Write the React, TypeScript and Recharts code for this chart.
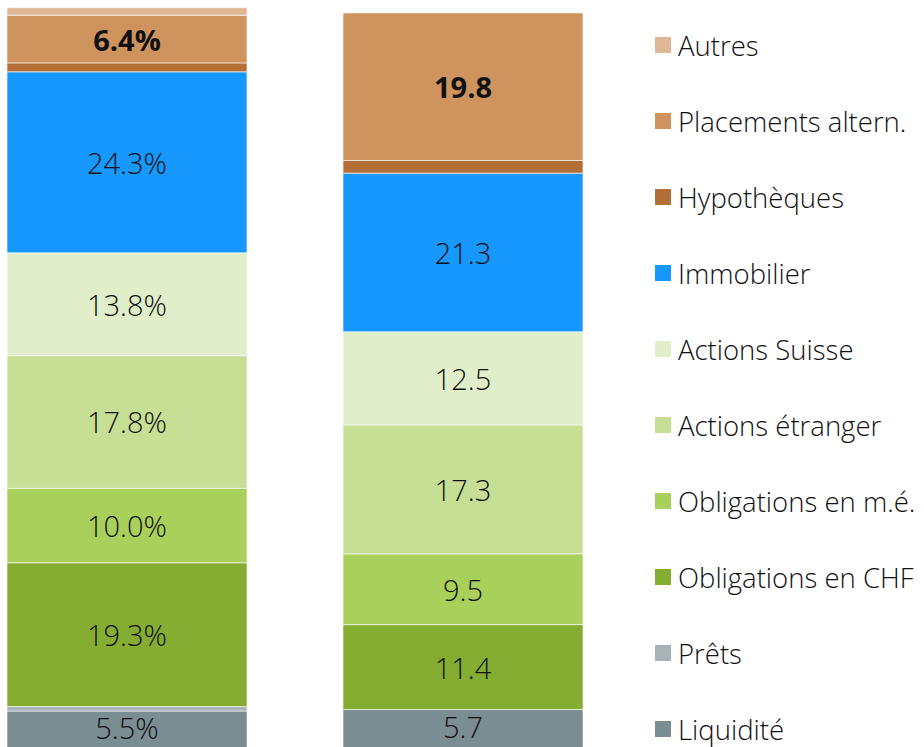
import { BarChart, Bar, XAxis, YAxis, LabelList } from 'recharts';

// two stacked columns (left in %, right in the same scale)
const columns = ['Répartition', 'Stratégie'];

const seriesNames = [
  'Liquidité',
  'Prêts',
  'Obligations en CHF',
  'Obligations en m.é.',
  'Actions étranger',
  'Actions Suisse',
  'Immobilier',
  'Hypothèques',
  'Placements altern.',
  'Autres',
];

const leftValues = [5.5, 0.6, 19.3, 10.0, 17.8, 13.8, 24.3, 1.2, 6.4, 1.0];
const rightValues = [5.7, 0, 11.4, 9.5, 17.3, 12.5, 21.3, 1.7, 19.8, 0];

const colors = [
  '#7A8D93',
  '#A6B3B9',
  '#84AD31',
  '#A8D05B',
  '#C6DF94',
  '#E0EFC9',
  '#1698FF',
  '#B36F36',
  '#CF935D',
  '#E0B794',
];

const data = columns.map((name, i) => {
  const row: Record<string, string | number> = { name };
  seriesNames.forEach((s, k) => {
    row[s] = i === 0 ? leftValues[k] : rightValues[k];
  });
  return row;
});

const FONT = '"Open Sans", sans-serif';

const makeLabel = (bold: boolean, nudge: number) => (props: any) => {
  const { x, y, width, height, value, index } = props;
  if (value == null || value < 3) return null;
  const txt = index === 0 ? `${Number(value).toFixed(1)}%` : Number(value).toFixed(1);
  return (
    <text
      x={x + width / 2}
      y={y + height / 2 + nudge}
      textAnchor="middle"
      dominantBaseline="central"
      fontSize={29}
      fontWeight={bold ? 700 : 300}
      fontFamily={FONT}
      fill="#111"
    >
      {txt}
    </text>
  );
};

export default function App() {
  const legendItems = seriesNames.map((n, i) => ({ n, c: colors[i] })).reverse();
  return (
    <div
      style={{
        position: 'fixed',
        left: 0,
        top: 0,
        width: 924,
        height: 747,
        overflow: 'hidden',
        background: '#fff',
        fontFamily: FONT,
      }}
    >
      <div style={{ position: 'absolute', left: -41, top: 0 }}>
        <BarChart
          width={672}
          height={752}
          data={data}
          margin={{ top: 7, right: 0, bottom: 0, left: 0 }}
          barCategoryGap={96}
        >
          <XAxis dataKey="name" hide />
          <YAxis hide domain={[0, 100]} />
          {seriesNames.map((s, i) => (
            <Bar
              key={s}
              dataKey={s}
              stackId="a"
              fill={colors[i]}
              barSize={240}
              stroke="#ffffff"
              strokeWidth={0.6}
              isAnimationActive={false}
            >
              <LabelList
                dataKey={s}
                content={makeLabel(s === 'Placements altern.', i === 0 ? -4 : 0)}
              />
            </Bar>
          ))}
        </BarChart>
      </div>
      <div style={{ position: 'absolute', left: 655, top: 7 }}>
        {legendItems.map((it) => (
          <div key={it.n} style={{ height: 76, display: 'flex', alignItems: 'center' }}>
            <span style={{ width: 16, height: 16, background: it.c, display: 'inline-block', marginRight: 7, flexShrink: 0 }} />
            <span style={{ fontSize: 27.5, fontWeight: 300, color: '#111', whiteSpace: 'nowrap' }}>{it.n}</span>
          </div>
        ))}
      </div>
    </div>
  );
}
